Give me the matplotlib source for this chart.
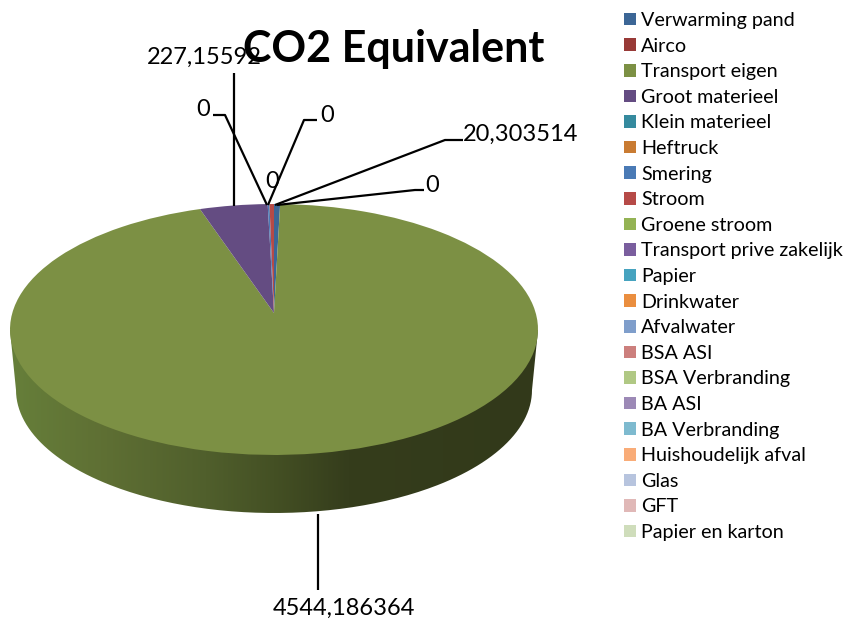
#!/usr/bin/env python3
# -*- coding: utf-8 -*-
"""Taart-grafiek CO2 Equivalent, met 3D-look (perspectief op de pie van matplotlib)."""

import numpy as np
import matplotlib
matplotlib.use('Agg')
import matplotlib.pyplot as plt
from matplotlib.colors import LinearSegmentedColormap
from matplotlib.path import Path
from matplotlib.transforms import Transform

categories = ['Verwarming pand', 'Airco', 'Transport eigen', 'Groot materieel', 'Klein materieel',
              'Heftruck', 'Smering', 'Stroom', 'Groene stroom', 'Transport prive zakelijk',
              'Papier', 'Drinkwater', 'Afvalwater', 'BSA ASI', 'BSA Verbranding', 'BA ASI',
              'BA Verbranding', 'Huishoudelijk afval', 'Glas', 'GFT', 'Papier en karton']
# Smering en Stroom hebben geen zichtbaar label: geschat uit de breedte van de punt
values = [20.303514, 0, 4544.186364, 227.15592, 0,
          0, 6, 15, 0, 0,
          0, 0, 0, 0, 0, 0,
          0, 0, 0, 0, 0]
colors = ['#3C6696', '#983A37', '#7C9044', '#644C82', '#358A9E',
          '#C97B32', '#4A7AB5', '#B64A47', '#94B354', '#7A5E9E',
          '#46A3BF', '#EA8E3F', '#7F9ECB', '#CC7F7D', '#B0C884', '#9C89B6',
          '#7EBACF', '#F9AC78', '#B7C4DE', '#E0B8B7', '#CFDDBB']

plt.rcParams['font.family'] = ['Lato', 'DejaVu Sans']


class Perspectief(Transform):
    """Eenheidscirkel van de pie naar het schuine bovenvlak, in pixels."""
    input_dims = 2
    output_dims = 2

    def transform_non_affine(self, values):
        xy = np.asarray(values, dtype=float)
        w = 1 + 0.1315 * xy[:, 1]
        return np.column_stack([274 + 261.7 * xy[:, 0] / w, 313 - 123.3 * xy[:, 1] / w])


def label_tekst(v):
    return str(v).replace('.', ',')


def leader(ax, xs, ys):
    ax.plot(xs, ys, color='black', lw=1.6, solid_capstyle='butt', zorder=3)


fig = plt.figure(figsize=(8.47, 6.22), dpi=100)
ax = fig.add_axes([0, 0, 1, 1])

wedges, _ = ax.pie(values, colors=colors, startangle=90, counterclock=False,
                   wedgeprops={'linewidth': 0})
for w in wedges:
    w.set_transform(Perspectief() + ax.transData)

# zijkant
hoek = np.linspace(np.pi, 0, 200)
rand_x = 274 + 258 * np.cos(hoek)
rand_y = 390 + 123 * np.sin(hoek)
wand = Path(np.column_stack([np.r_[10, rand_x, 538, 10], np.r_[330, rand_y, 330, 330]]))
cmap = LinearSegmentedColormap.from_list('wand', [(0, '#667F3A'), (0.17, '#5F7034'), (0.37, '#505F2C'),
                                                  (0.5, '#445024'), (0.64, '#353D1C'), (1, '#32391A')])
im = ax.imshow(np.linspace(0, 1, 256).reshape(1, -1), cmap=cmap, extent=(10, 538, 520, 325),
               aspect='auto', zorder=0)
im.set_clip_path(wand, transform=ax.transData)

ax.set_xlim(0, 847)
ax.set_ylim(622, 0)
ax.set_aspect('auto')
ax.axis('off')

# labels
leader(ax, [234, 234], [73, 206])
leader(ax, [213, 225, 267], [115, 115, 205])
leader(ax, [317, 304, 268], [120, 120, 205])
leader(ax, [463, 445, 275], [140, 140, 205])
leader(ax, [424, 415, 277], [190, 190, 205])
leader(ax, [318, 318], [514, 590])

lab = dict(fontsize=17, ha='center', va='center', color='black', zorder=4)
ax.text(204, 57, label_tekst(values[3]), **lab)
ax.text(203, 110, label_tekst(values[1]), **lab)
ax.text(327, 115, label_tekst(values[4]), **lab)
ax.text(272, 182, label_tekst(values[5]), **lab)
ax.text(432, 186, label_tekst(values[8]), **lab)
ax.text(521, 134, label_tekst(values[0]), **lab)
ax.text(344, 608, label_tekst(values[2]), **lab)

ax.text(394, 49, 'CO2 Equivalent', fontsize=31, fontweight='bold', ha='center', va='center', zorder=5)

fs = 14.2
leg = ax.legend(wedges, categories, loc='upper left', bbox_to_anchor=(624, 12),
                bbox_transform=ax.transData, frameon=False, fontsize=fs, borderpad=0, borderaxespad=0,
                handlelength=0.61, handleheight=0.61, handletextpad=0.25, labelspacing=0.436)

fig.savefig('out.png', dpi=100)
